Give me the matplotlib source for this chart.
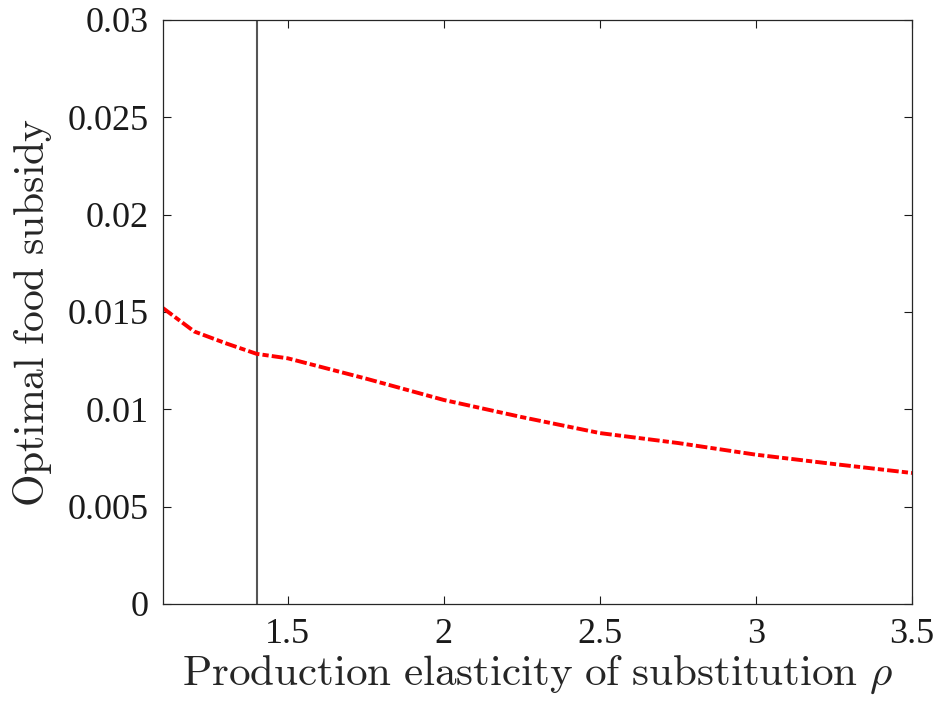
import matplotlib
matplotlib.use("Agg")
import matplotlib.pyplot as plt

rho = [1.1, 1.2, 1.3, 1.4, 1.5, 1.75, 2.0, 2.25, 2.5, 2.75, 3.0, 3.25, 3.5]
subsidy = [0.0152, 0.0140, 0.0134, 0.01285, 0.01262, 0.01158, 0.01048, 0.00960,
           0.00878, 0.00827, 0.00767, 0.00719, 0.00673]
vline_x = 1.4
xticks = [1.5, 2, 2.5, 3, 3.5]
yticks = [0, 0.005, 0.01, 0.015, 0.02, 0.025, 0.03]
ytick_labels = ["0", "0.005", "0.01", "0.015", "0.02", "0.025", "0.03"]

plt.rcParams['mathtext.fontset'] = 'cm'
plt.rcParams['font.family'] = ['Liberation Serif', 'DejaVu Serif']

fig = plt.figure(figsize=(9.39, 7.09), dpi=100)
ax = fig.add_axes([163/939, 1-604/709, (912-163)/939, (604-20)/709])

ax.axvline(vline_x, color='#555555', lw=1.5)
ax.plot(rho, subsidy, color='#ff0000', lw=2.8, ls=(0, (3.0, 0.8, 1.6, 0.8)))

ax.set_xlim(1.1, 3.5)
ax.set_ylim(0, 0.03)
ax.set_xticks(xticks)
ax.set_xticklabels([f"{t:g}" for t in xticks])
ax.set_yticks(yticks)
ax.set_yticklabels(ytick_labels)
ax.tick_params(direction='in', length=6, width=0.8, top=True, right=True,
               labelsize=26, colors='#1a1a1a', pad=10)
for s in ax.spines.values():
    s.set_color('#262626')
    s.set_linewidth(0.9)

ax.set_xlabel(r'$\mathrm{Production\ elasticity\ of\ substitution}\ \rho$', fontsize=31, color='#262626', labelpad=2)
ax.set_ylabel(r'$\mathrm{Optimal\ food\ subsidy}$', fontsize=30, color='#262626', labelpad=10)

fig.savefig('out.png', dpi=100)
